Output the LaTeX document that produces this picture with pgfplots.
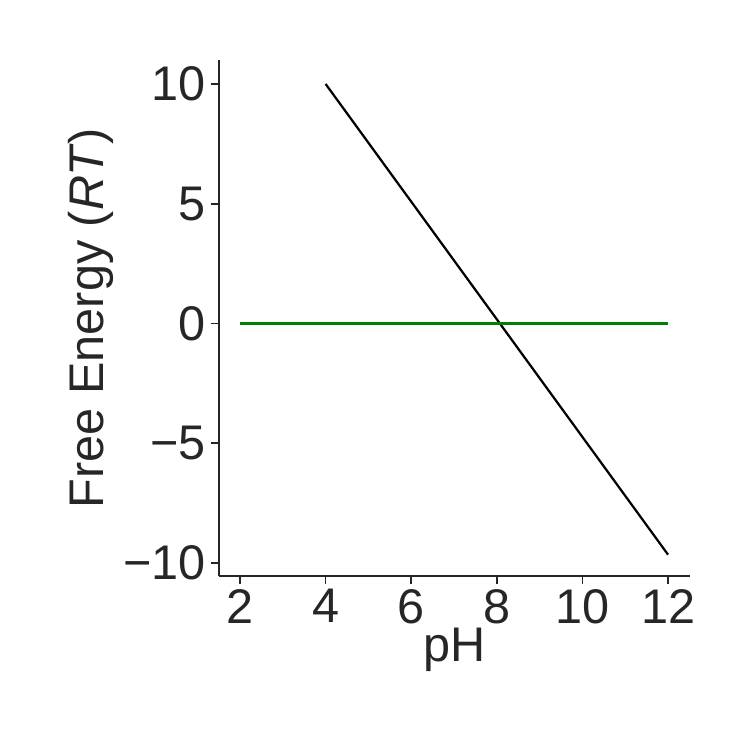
\documentclass[border=0pt]{standalone}
\usepackage{pgfplots}
\pgfplotsset{compat=1.18}
\usepackage{fontspec}
\setmainfont{Liberation Sans}
\definecolor{ax}{HTML}{262626}
\begin{document}
\begin{tikzpicture}
\begin{axis}[
  at={(0,0)}, anchor=south west,
  scale only axis, width=339pt, height=371.5pt,
  xmin=1.51, xmax=12.51, ymin=-10.54, ymax=11.0,
  axis x line*=bottom, axis y line*=left,
  axis line style={ax, line width=1.2pt, -},
  xtick={2,4,...,12}, ytick={-10,-5,0,5,10},
  tick style={ax, line width=1.2pt}, tick align=outside, major tick length=6pt,
  ticklabel style={font=\fontsize{35}{40}\selectfont, text=ax},
  /pgf/number format/assume math mode=true,
  yticklabel={\ifdim\tick pt<0pt −\pgfmathparse{abs(\tick)}\pgfmathprintnumber{\pgfmathresult}\else\pgfmathprintnumber{\tick}\fi},
  xlabel={pH}, ylabel={Free Energy (\textit{RT})},
  label style={font=\fontsize{35}{40}\selectfont, text=ax},
  xlabel style={yshift=4pt},
]
\addplot[black, line width=1.6pt] coordinates {(4,10) (12,-9.65)};
\addplot[green!50!black, line width=1.6pt] coordinates {(2,0) (12,0)};
\end{axis}
\useasboundingbox (-157.7pt,-125.3pt) rectangle (382.3pt,414.7pt);
\end{tikzpicture}
\end{document}
